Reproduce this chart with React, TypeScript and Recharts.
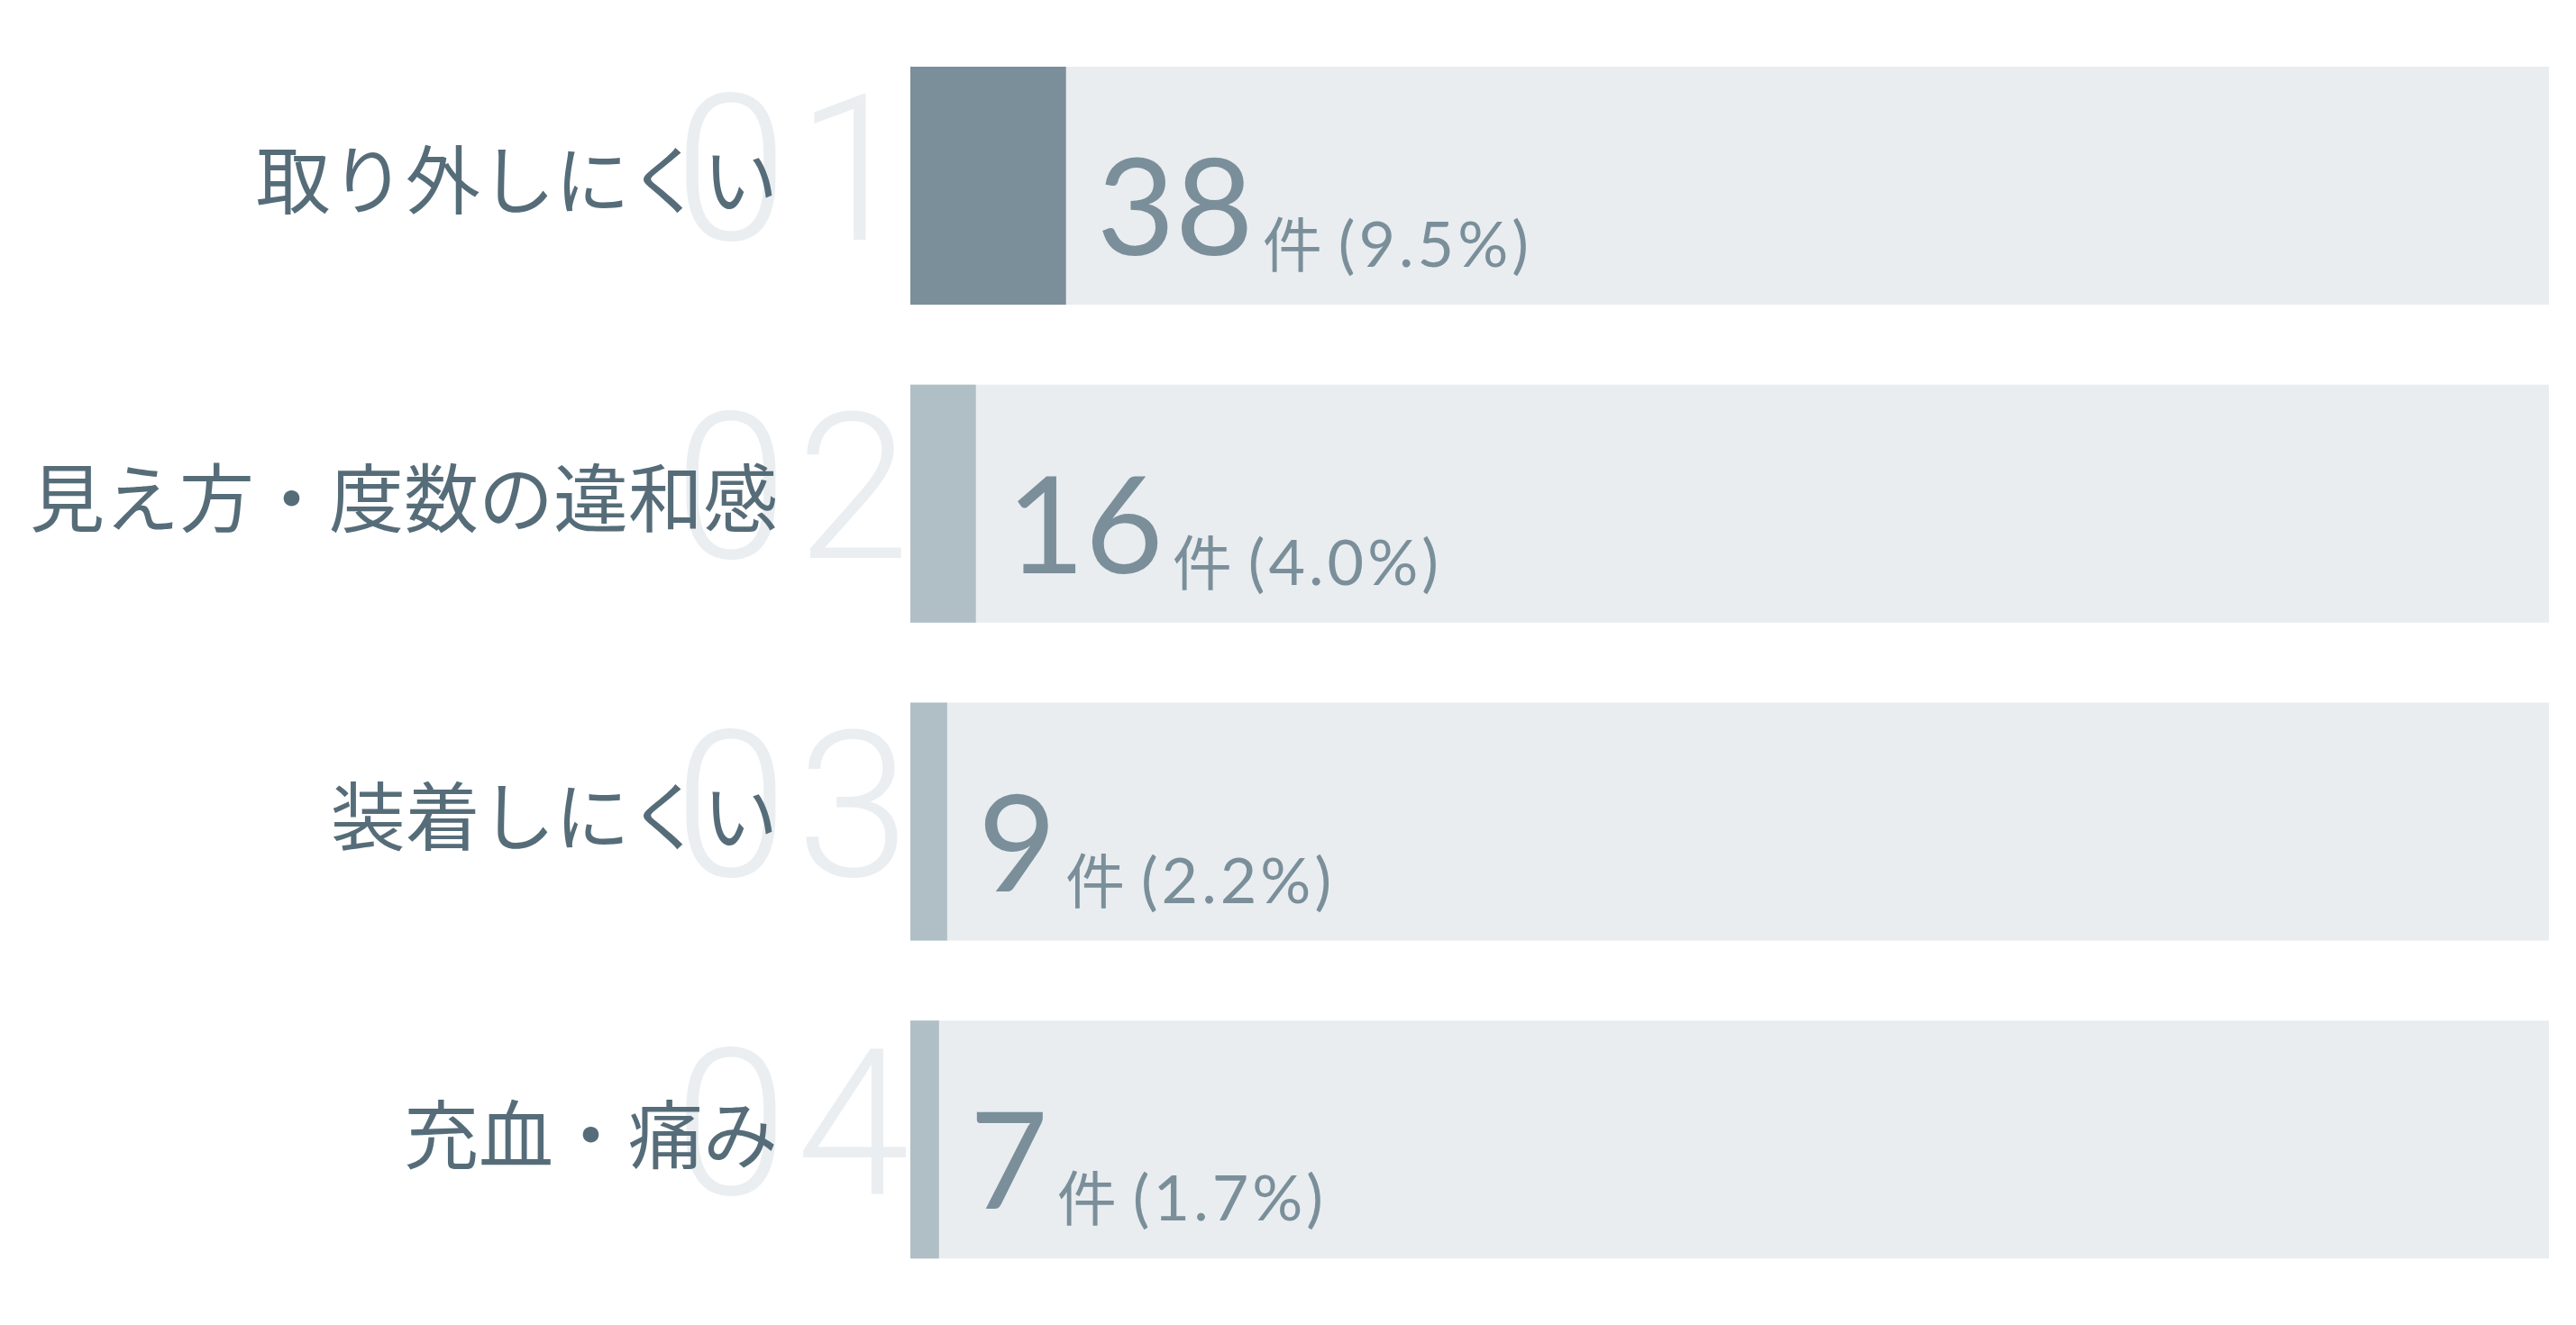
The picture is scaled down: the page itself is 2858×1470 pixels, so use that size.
import React from 'react';
import { BarChart, Bar, XAxis, YAxis, Cell, LabelList } from 'recharts';

const categories = ['取り外しにくい', '見え方・度数の違和感', '装着しにくい', '充血・痛み'];
const ranks = ['01', '02', '03', '04'];
const counts = [38, 16, 9, 7];
const percents = ['9.5', '4.0', '2.2', '1.7'];
const barColors = ['#7a8f9a', '#b0bfc6', '#b0bfc6', '#b0bfc6'];
const totalResponses = 400;

const data = categories.map((name, i) => ({
  name,
  rank: ranks[i],
  count: counts[i],
  percent: percents[i],
}));

const NUM_FONT = 'Lato, "Noto Sans", sans-serif';
const GHOST_FONT = 'Roboto, Inter, sans-serif';
const JP_FONT = '"Noto Sans CJK JP", "Noto Sans", sans-serif';

const CategoryTick = (props: any) => {
  const { x, y, payload, index } = props;
  return (
    <g>
      <text
        x={x + 9}
        y={y + 60}
        textAnchor="end"
        fill="#eaeef1"
        fontFamily={GHOST_FONT}
        fontWeight={300}
        fontSize={226}
        letterSpacing={10}
      >
        {ranks[index]}
      </text>
      <text
        x={x - 147}
        y={y + 25}
        textAnchor="end"
        fill="#566d79"
        fontFamily={JP_FONT}
        fontSize={83}
      >
        {payload.value}
      </text>
    </g>
  );
};

const CountLabel = (props: any) => {
  const { x, y, width, index } = props;
  return (
    <text x={x + width + 34} y={y + 209} fill="#7a8f9a" fontFamily={NUM_FONT}>
      <tspan fontSize={150}>{counts[index]}</tspan>
      <tspan fontSize={66} dx={10} dy={13} fontFamily={JP_FONT}>件</tspan>
      <tspan fontSize={70} dx={18} letterSpacing={4}>({percents[index]}%)</tspan>
    </text>
  );
};

export default function App() {
  return (
    <div style={{ width: 2842, height: 1454 }}>
      <BarChart
        width={2842}
        height={1454}
        data={data}
        layout="vertical"
        margin={{ top: 22, right: 22, bottom: 21, left: 0 }}
      >
        <XAxis type="number" hide domain={[0, totalResponses]} />
        <YAxis
          type="category"
          dataKey="name"
          width={1002}
          axisLine={false}
          tickLine={false}
          tickSize={0}
          tickMargin={0}
          tick={CategoryTick}
          interval={0}
        />
        <Bar
          dataKey="count"
          barSize={264}
          background={{ fill: '#e9edf0' }}
          isAnimationActive={false}
        >
          {data.map((d, i) => (
            <Cell key={d.name} fill={barColors[i]} />
          ))}
          <LabelList dataKey="count" content={CountLabel} />
        </Bar>
      </BarChart>
    </div>
  );
}
